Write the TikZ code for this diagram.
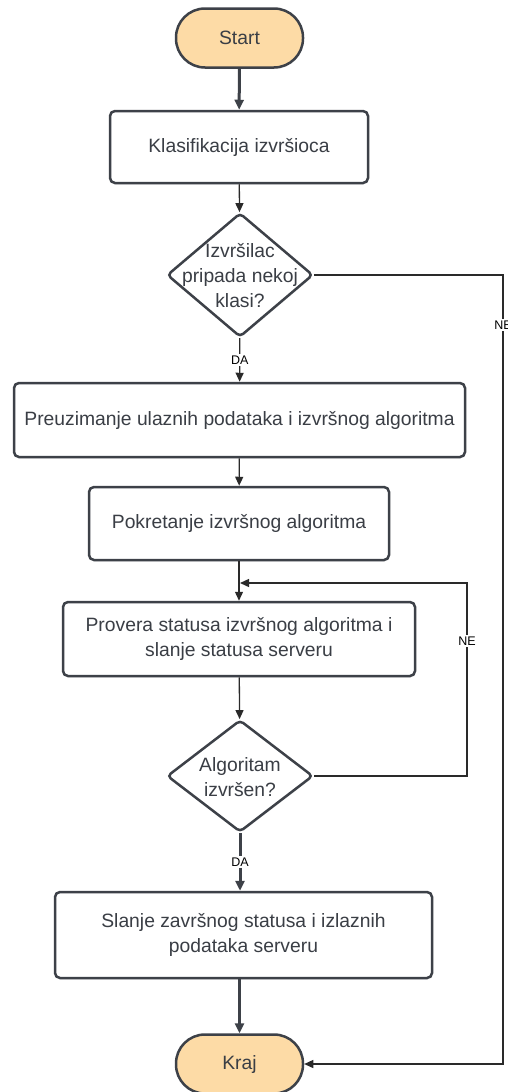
\documentclass[tikz,border=0pt]{standalone}
\usepackage{fontspec}
\setmainfont{Liberation Sans}
\usetikzlibrary{arrows.meta,shapes.geometric,shadows}
\definecolor{edge}{HTML}{3D4148}
\definecolor{ink}{HTML}{3A3E45}
\definecolor{peach}{HTML}{FDDBA6}
\definecolor{wire}{HTML}{2A2A2A}
\begin{document}
\begin{tikzpicture}[x=1pt,y=-1pt,
  shade/.style={drop shadow={opacity=0.12,shadow xshift=0.8pt,shadow yshift=-1.5pt}},
  term/.style={draw=edge,line width=2.5pt,fill=peach,rounded corners=29pt,
    minimum width=127pt,minimum height=59pt,text=ink,
    font=\fontsize{19.3}{22}\selectfont,shade},
  proc/.style={draw=edge,line width=2.5pt,fill=white,rounded corners=5pt,
    text=ink,font=\fontsize{19.3}{25.5}\selectfont,align=center,inner sep=0pt,shade},
  dec/.style={diamond,draw=edge,line width=2.5pt,fill=white,rounded corners=4pt,
    minimum width=146pt,inner sep=0pt,shade},
  dtext/.style={text=ink,font=\fontsize{19.3}{25}\selectfont,align=center,inner sep=0pt},
  flow/.style={draw=wire,line width=1.3pt,-{Triangle[length=9pt,width=8pt]}},
  heavy/.style={draw=edge,line width=3pt,-{Triangle[length=10pt,width=9pt]}},
  lbl/.style={fill=white,text=black,font=\fontsize{12.5}{13}\selectfont,inner sep=1.5pt}]
\useasboundingbox (0,0) rectangle (508,1092);

% process steps
\node[term] (start) at (239.5,38) {Start};
\node[proc,minimum width=258pt,minimum height=72pt] (klas) at (239,147) {Klasifikacija izvršioca};
\node[dec,minimum height=124pt] (d1) at (240,275) {};
\node[dtext] (d1t) at (240,276) {Izvršilac\\pripada nekoj\\klasi?};
\node[proc,minimum width=451pt,minimum height=74pt] (preu) at (239.5,420) {Preuzimanje ulaznih podataka i izvršnog algoritma};
\node[proc,minimum width=300pt,minimum height=73pt] (pokr) at (239,523.5) {Pokretanje izvršnog algoritma};
\node[proc,minimum width=352pt,minimum height=74pt] (prov) at (239,639) {Provera statusa izvršnog algoritma i\\slanje statusa serveru};
\node[dec,minimum height=112pt] (d2) at (240,776) {};
\node[dtext] (d2t) at (240,777) {Algoritam\\izvršen?};
\node[proc,minimum width=377pt,minimum height=86pt] (slanje) at (243.5,935) {Slanje završnog statusa i izlaznih\\podataka serveru};
\node[term] (kraj) at (239.5,1064) {Kraj};

% routing points
\coordinate (far) at (503,275);
\coordinate (loopR) at (467,583);
\coordinate (loopin) at (240,583);

% main flow
\draw[heavy] (start) -- (klas);
\draw[flow] (klas) -- (d1);
\draw[flow] (d1) -- node[lbl]{DA} (preu);
\draw[flow] (preu) -- (pokr);
\draw[flow] (pokr) -- (prov);
\draw[flow] (prov) -- (d2);
\draw[heavy] (d2) -- node[lbl]{DA} (slanje.north -| d2);
\draw[heavy] (slanje.south -| kraj) -- (kraj);

% NE branches
\draw[flow] (d2.east) -- (d2.east -| loopR) -- node[lbl,pos=0.7]{NE} (loopR) -- (loopin);
\draw[flow] (d1.east) -- (far) -- node[lbl,pos=0.063]{NE} (far |- kraj) -- (kraj.east);
\end{tikzpicture}
\end{document}
